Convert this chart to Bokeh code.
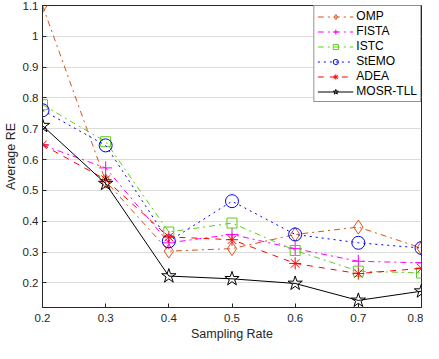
from bokeh.plotting import figure
from bokeh.models import FixedTicker, Legend, LegendItem
from bokeh.embed import file_html
from bokeh.resources import INLINE

rates = [0.2, 0.3, 0.4, 0.5, 0.6, 0.7, 0.8]
omp = [1.10, 0.530, 0.303, 0.311, 0.357, 0.381, 0.313]
fista = [0.647, 0.573, 0.330, 0.357, 0.311, 0.270, 0.265]
istc = [0.778, 0.658, 0.365, 0.394, 0.305, 0.238, 0.232]
stemo = [0.760, 0.646, 0.335, 0.465, 0.357, 0.330, 0.313]
adea = [0.648, 0.535, 0.349, 0.340, 0.263, 0.230, 0.247]
mosr = [0.710, 0.522, 0.222, 0.213, 0.198, 0.143, 0.173]
yticks = [0.2, 0.3, 0.4, 0.5, 0.6, 0.7, 0.8, 0.9, 1.0, 1.1]
xticks = [0.2, 0.3, 0.4, 0.5, 0.6, 0.7, 0.8]

FONT = "Liberation Sans"
p = figure(width=423, height=343, output_backend="svg", toolbar_location=None,
           x_range=(0.2, 0.8), y_range=(0.12, 1.1),
           min_border_left=39, min_border_right=2, min_border_top=5, min_border_bottom=36)
p.outline_line_color = "#262626"
p.outline_line_width = 1
p.background_fill_color = "white"
p.border_fill_color = "white"

for ax, ticks in ((p.xaxis[0], xticks), (p.yaxis[0], yticks)):
    ax.ticker = FixedTicker(ticks=ticks)
    ax.major_tick_in = 4
    ax.major_tick_out = 0
    ax.minor_tick_in = 0
    ax.minor_tick_out = 0
    ax.axis_line_color = "#262626"
    ax.major_tick_line_color = "#262626"
    ax.major_label_text_font = FONT
    ax.major_label_text_font_size = "11.5px"
    ax.major_label_text_color = "#262626"
    ax.axis_label_text_font = FONT
    ax.axis_label_text_font_size = "12.5px"
    ax.axis_label_text_font_style = "normal"
    ax.axis_label_text_color = "#262626"
p.yaxis.major_label_overrides = {1: "1", 1.0: "1"}
p.xaxis.axis_label = "Sampling Rate"
p.yaxis.axis_label = "Average RE"
p.xaxis.major_label_standoff = 6
p.yaxis.major_label_standoff = 4
p.xaxis.axis_label_standoff = 2
p.yaxis.axis_label_standoff = 2

p.xgrid.grid_line_color = None
p.ygrid.grid_line_color = "#DCDCDC"
p.ygrid.grid_line_width = 1

series = [
    ("OMP", omp, "#D95319", "dashdot", "diamond", 14),
    ("FISTA", fista, "#FF00FF", "dashdot", "cross", 13),
    ("ISTC", istc, "#5FCB1F", "dashdot", "square", 10),
    ("StEMO", stemo, "#0000FF", "dotted", "circle", 13),
    ("ADEA", adea, "#FF0000", "dashed", "asterisk", 12),
    ("MOSR-TLL", mosr, "#000000", "solid", "star", 15),
]
items = []
for name, ys, col, dash, mk, sz in series:
    l = p.line(rates, ys, line_color=col, line_dash=dash, line_width=1)
    m = p.scatter(rates, ys, marker=mk, size=sz, line_color=col, fill_alpha=0, line_width=1)
    items.append(LegendItem(label=name, renderers=[l, m]))

leg = Legend(items=items, location="top_right")
leg.border_line_color = "#262626"
leg.border_line_width = 1
leg.label_text_font = FONT
leg.label_text_font_size = "12px"
leg.label_text_color = "#000000"
leg.glyph_width = 36
leg.glyph_height = 13
leg.spacing = 1
leg.padding = 3
leg.margin = 0
leg.label_standoff = 3
leg.label_height = 13
p.add_layout(leg)

open("out.html", "w").write(file_html(p, INLINE))
